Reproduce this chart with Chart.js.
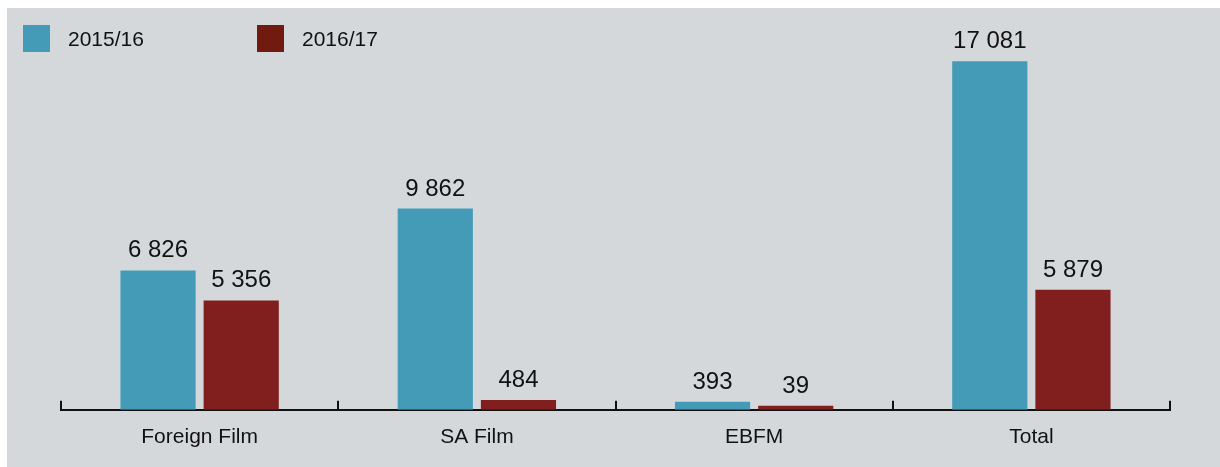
<!DOCTYPE html>
<html>
<head>
<meta charset="utf-8">
<script src="https://cdn.jsdelivr.net/npm/chart.js@4"></script>
<style>
	body { margin: 0; background: #ffffff; }
	#wrap { width: 1220px; height: 467px; }
</style>
</head>
<body>
<div id="wrap"><canvas id="filmChart" width="1220" height="467"></canvas></div>
<script>
const categories = ["Foreign Film", "SA Film", "EBFM", "Total"];
const seriesNames = ["2015/16", "2016/17"];
const values201516 = [6826, 9862, 393, 17081];
const values201617 = [5356, 484, 39, 5879];
const barColors = ["#439bb7", "#811f1e"];
const legendColors = ["#439bb7", "#711a0f"];

function formatNumber(n) {
	// space as thousands separator, e.g. 17 081
	return String(n).replace(/\B(?=(\d{3})+(?!\d))/g, " ");
}

// grey panel behind everything
const panelBackground = {
	id: 'panelBackground',
	beforeDraw(chart) {
		const ctx = chart.ctx;
		ctx.save();
		ctx.fillStyle = "#d5d8db";
		ctx.fillRect(7, 8, chart.width - 7, chart.height - 8);
		ctx.restore();
	}
};

// legend squares at top left
const topLegend = {
	id: 'topLegend',
	afterDraw(chart) {
		const ctx = chart.ctx;
		const positions = [23, 257];
		ctx.save();
		ctx.font = "21px 'Liberation Sans', Arial, sans-serif";
		ctx.textBaseline = "middle";
		seriesNames.forEach((name, i) => {
			ctx.fillStyle = legendColors[i];
			ctx.fillRect(positions[i], 25, 27, 27);
			ctx.fillStyle = "#111111";
			ctx.fillText(name, positions[i] + 45, 40);
		});
		ctx.restore();
	}
};

// tick marks pointing upward at category boundaries
const upTicks = {
	id: 'upTicks',
	afterDatasetsDraw(chart) {
		const x = chart.scales.x;
		const ctx = chart.ctx;
		const bottom = chart.chartArea.bottom;
		ctx.save();
		ctx.strokeStyle = "#111111";
		ctx.lineWidth = 2;
		for (let i = 0; i <= categories.length; i++) {
			const px = Math.round(x.getPixelForValue(i - 0.5));
			ctx.beginPath();
			ctx.moveTo(px, bottom + 1);
			ctx.lineTo(px, bottom - 9);
			ctx.stroke();
		}
		ctx.restore();
	}
};

// value labels above bars
const valueLabels = {
	id: 'valueLabels',
	afterDatasetsDraw(chart) {
		const ctx = chart.ctx;
		ctx.save();
		ctx.font = "24px 'Liberation Sans', Arial, sans-serif";
		ctx.fillStyle = "#111111";
		ctx.textAlign = "center";
		ctx.textBaseline = "alphabetic";
		chart.data.datasets.forEach((ds, di) => {
			chart.getDatasetMeta(di).data.forEach((bar, i) => {
				ctx.fillText(formatNumber(ds.data[i]), bar.x, bar.y - 13);
			});
		});
		ctx.restore();
	}
};

const ctx = document.getElementById('filmChart').getContext('2d');
const filmChart = new Chart(ctx, {
	type: 'bar',
	data: {
		labels: categories,
		datasets: [{
			label: seriesNames[0],
			data: values201516,
			backgroundColor: barColors[0],
			borderWidth: 0,
			minBarLength: 4,
		}, {
			label: seriesNames[1],
			data: values201617,
			backgroundColor: barColors[1],
			borderWidth: 0,
			minBarLength: 4,
		}],
	},
	options: {
		responsive: false,
		animation: false,
		maintainAspectRatio: false,
		categoryPercentage: 0.6,
		barPercentage: 0.904,
		layout: {
			padding: { left: 61, right: 50, top: 22, bottom: 2 },
		},
		plugins: {
			legend: { display: false },
			tooltip: { enabled: false },
		},
		scales: {
			x: {
				grid: { display: false, drawTicks: false },
				border: { display: true, color: "#111111", width: 2 },
				ticks: {
					padding: 15,
					color: "#111111",
					font: { family: "'Liberation Sans', Arial, sans-serif", size: 21 },
				},
			},
			y: {
				display: false,
				min: 0,
				max: 19000,
			},
		},
	},
	plugins: [panelBackground, topLegend, upTicks, valueLabels],
});
</script>
</body>
</html>
